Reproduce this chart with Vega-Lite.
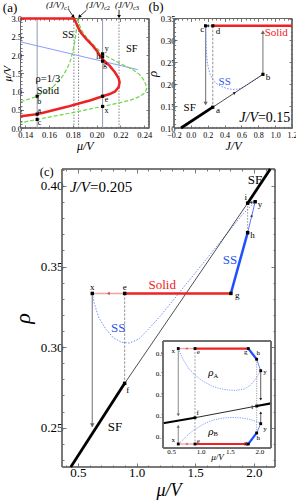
{
"$schema":"https://vega.github.io/schema/vega-lite/v6.json",
"width":296,"height":503,"autosize":"none","padding":0,"background":"white",
"config":{"font":"Liberation Serif","view":{"stroke":null},"axis":{"grid":false,"domain":false,"labelFont":"Liberation Serif","titleFont":"Liberation Serif","labelColor":"#000","titleColor":"#000","tickColor":"#555","tickWidth":0.8,"titleFontWeight":"normal","titleFontStyle":"italic","labelFlush":false,"labelOverlap":false},"text":{"font":"Liberation Serif"}},
"datasets":{
"a_frame":[{"x":0.136,"x2":0.244,"y":0,"y2":3}],
"a_vgray":[{"x":0.15,"x2":0.15,"y":0,"y2":3},{"x":0.205,"x2":0.205,"y":0,"y2":3}],
"a_vdot":[{"x":0.1809,"x2":0.1809,"y":0,"y2":3},{"x":0.1848,"x2":0.1848,"y":0,"y2":3},{"x":0.2188,"x2":0.2188,"y":0,"y2":3}],
"a_blue":[{"x":0.136,"y":2.36},{"x":0.2345,"y":1.6}],
"a_green1":[{"x":0.136,"y":0.72},{"x":0.143,"y":0.79},{"x":0.15,"y":0.87},{"x":0.157,"y":0.98},{"x":0.163,"y":1.12},{"x":0.168,"y":1.28},{"x":0.172,"y":1.45},{"x":0.1755,"y":1.65},{"x":0.178,"y":1.85},{"x":0.18,"y":2.1},{"x":0.1818,"y":2.4},{"x":0.183,"y":2.7},{"x":0.1838,"y":3.0}],
"a_green2":[{"x":0.1838,"y":3.0},{"x":0.1855,"y":2.82},{"x":0.188,"y":2.64},{"x":0.192,"y":2.46},{"x":0.197,"y":2.29},{"x":0.201,"y":2.16},{"x":0.205,"y":2.03},{"x":0.212,"y":1.9},{"x":0.2196,"y":1.77},{"x":0.2255,"y":1.68},{"x":0.2308,"y":1.59},{"x":0.236,"y":1.47},{"x":0.2395,"y":1.32},{"x":0.2415,"y":1.18},{"x":0.242,"y":1.08},{"x":0.2405,"y":0.96},{"x":0.236,"y":0.86},{"x":0.229,"y":0.77},{"x":0.219,"y":0.69},{"x":0.205,"y":0.59},{"x":0.19,"y":0.49},{"x":0.175,"y":0.39},{"x":0.16,"y":0.3},{"x":0.15,"y":0.235},{"x":0.143,"y":0.19},{"x":0.136,"y":0.14}],
"a_red":[{"x":0.136,"y":3.0},{"x":0.181,"y":3.0},{"x":0.1825,"y":2.9},{"x":0.1845,"y":2.75},{"x":0.187,"y":2.6},{"x":0.191,"y":2.45},{"x":0.196,"y":2.28},{"x":0.2,"y":2.12},{"x":0.205,"y":1.88},{"x":0.211,"y":1.7},{"x":0.2155,"y":1.52},{"x":0.2185,"y":1.36},{"x":0.2193,"y":1.25},{"x":0.2185,"y":1.12},{"x":0.2155,"y":1.0},{"x":0.211,"y":0.93},{"x":0.205,"y":0.87},{"x":0.195,"y":0.76},{"x":0.185,"y":0.67},{"x":0.175,"y":0.58},{"x":0.165,"y":0.5},{"x":0.155,"y":0.42},{"x":0.15,"y":0.38},{"x":0.143,"y":0.35},{"x":0.136,"y":0.32}],
"a_pts":[{"x":0.15,"y":0.38},{"x":0.15,"y":0.87},{"x":0.15,"y":0.235},{"x":0.205,"y":2.03},{"x":0.205,"y":1.95},{"x":0.205,"y":1.83},{"x":0.205,"y":0.87},{"x":0.205,"y":0.59}],
"a_lbl":[{"x":0.1518,"y":0.71,"t":"b"},{"x":0.1518,"y":0.46,"t":"a"},{"x":0.152,"y":0.14,"t":"c"},{"x":0.2084,"y":2.16,"t":"y"},{"x":0.2013,"y":1.95,"t":"h"},{"x":0.207,"y":1.72,"t":"g"},{"x":0.2083,"y":0.76,"t":"e"},{"x":0.2083,"y":0.46,"t":"x"}],
"a_txt":[{"x":0.176,"y":2.55,"t":"SS"},{"x":0.2295,"y":2.16,"t":"SF"},{"x":0.159,"y":1.33,"t":"ρ=1/3"},{"x":0.159,"y":1.02,"t":"Solid"}],
"a_jv":[{"x":0.1725,"y":3.36,"t":"(J/V)"},{"x":0.2061,"y":3.36,"t":"(J/V)"},{"x":0.2305,"y":3.36,"t":"(J/V)"}],
"a_jvsub":[{"x":0.1725,"y":3.3,"t":"c1"},{"x":0.2061,"y":3.3,"t":"c2"},{"x":0.2305,"y":3.3,"t":"c3"}],
"a_arr":[{"x":0.1767,"x2":0.1805,"y":3.23,"y2":3.05},{"x":0.1915,"x2":0.1855,"y":3.23,"y2":3.05},{"x":0.2188,"x2":0.2188,"y":3.24,"y2":3.05}],
"a_h1":[{"x":0.1805,"y":3.05}],"a_h2":[{"x":0.1855,"y":3.05}],"a_h3":[{"x":0.2188,"y":3.05}],
"a_lab":[{"x":0.1272,"y":3.29,"t":"(a)"}],
"b_frame":[{"x":-0.2,"x2":1.2,"y":0.1,"y2":0.35}],
"b_garr":[{"x":0.855,"x2":0.855,"y":0.2225,"y2":0.32},{"x":0.175,"x2":0.175,"y":0.3333,"y2":0.155}],
"b_hup":[{"x":0.855,"y":0.319}],"b_hdown":[{"x":0.175,"y":0.156}],
"b_dash":[{"x":0.26,"x2":0.26,"y":0.3333,"y2":0.1475}],
"b_cd":[{"x":0.175,"x2":0.26,"y":0.3333,"y2":0.3333}],
"b_hleft":[{"x":0.2,"y":0.3333}],
"b_sfthick":[{"x":-0.117,"x2":0.26,"y":0.1,"y2":0.1475}],
"b_sfthin":[{"x":0.26,"x2":0.855,"y":0.1475,"y2":0.2225}],
"b_hmid":[{"x":0.52,"y":0.1803}],
"b_ss":[{"x":0.175,"y":0.3333},{"x":0.178,"y":0.31},{"x":0.182,"y":0.285},{"x":0.188,"y":0.265},{"x":0.197,"y":0.248},{"x":0.21,"y":0.235},{"x":0.23,"y":0.222},{"x":0.26,"y":0.211},{"x":0.3,"y":0.202},{"x":0.36,"y":0.195},{"x":0.43,"y":0.19},{"x":0.5,"y":0.188},{"x":0.57,"y":0.189},{"x":0.62,"y":0.193},{"x":0.7,"y":0.2025},{"x":0.78,"y":0.2125},{"x":0.855,"y":0.2225}],
"b_red":[{"x":0.26,"x2":1.2,"y":0.3333,"y2":0.3333}],
"b_pts":[{"x":0.175,"y":0.3333},{"x":0.26,"y":0.3333},{"x":0.26,"y":0.1475},{"x":0.855,"y":0.2225}],
"b_lbl":[{"x":0.136,"y":0.326,"t":"c"},{"x":0.322,"y":0.321,"t":"d"},{"x":0.322,"y":0.141,"t":"a"},{"x":0.915,"y":0.2167,"t":"b"}],
"b_tred":[{"x":1.013,"y":0.316,"t":"Solid"}],
"b_tblue":[{"x":0.401,"y":0.2045,"t":"SS"}],
"b_tblack":[{"x":-0.014,"y":0.145,"t":"SF"}],
"b_jv":[{"x":0.796,"y":0.1217,"t":"J/V"}],"b_jv2":[{"x":0.796,"y":0.1217,"t":"=0.15"}],
"b_lab":[{"x":-0.4135,"y":0.376,"t":"(b)"}],
"c_frame":[{"x":0.365,"x2":2.18,"y":0.2256,"y2":0.4105}],
"c_sfthick":[{"x":0.44,"x2":0.899,"y":0.2256,"y2":0.2775},{"x":1.947,"x2":2.14,"y":0.3893,"y2":0.4105}],
"c_sfthin":[{"x":0.899,"x2":1.947,"y":0.2775,"y2":0.3893}],
"c_garr":[{"x":0.623,"x2":0.623,"y":0.3333,"y2":0.2505}],
"c_hdown":[{"x":0.623,"y":0.2515}],
"c_dash":[{"x":0.899,"x2":0.899,"y":0.3333,"y2":0.2775}],
"c_dot":[{"x":1.947,"x2":1.947,"y":0.3893,"y2":0.371}],
"c_pink":[{"x":0.623,"x2":0.899,"y":0.3333,"y2":0.3333}],
"c_hleft":[{"x":0.76,"y":0.3333}],
"c_red":[{"x":0.899,"x2":1.804,"y":0.3333,"y2":0.3333}],
"c_bthick":[{"x":1.804,"x2":1.947,"y":0.3333,"y2":0.371}],
"c_bthin":[{"x":1.947,"x2":2.011,"y":0.371,"y2":0.3902}],
"c_hmid":[{"x":1.982,"y":0.3815}],
"c_yi":[{"x":1.947,"x2":2.011,"y":0.3893,"y2":0.3902}],
"c_hyi":[{"x":1.975,"y":0.3897}],
"c_ss":[{"x":0.623,"y":0.3333},{"x":0.64,"y":0.327},{"x":0.68,"y":0.318},{"x":0.74,"y":0.311},{"x":0.8,"y":0.306},{"x":0.87,"y":0.303},{"x":0.94,"y":0.3025},{"x":1.02,"y":0.305},{"x":1.1,"y":0.311},{"x":1.2,"y":0.319},{"x":1.3,"y":0.328},{"x":1.4,"y":0.337},{"x":1.5,"y":0.346},{"x":1.6,"y":0.355},{"x":1.7,"y":0.364},{"x":1.8,"y":0.373},{"x":1.9,"y":0.382},{"x":2.011,"y":0.3902}],
"c_pts":[{"x":0.623,"y":0.3333},{"x":0.899,"y":0.3333},{"x":1.804,"y":0.3333},{"x":1.947,"y":0.371},{"x":1.947,"y":0.3893},{"x":2.011,"y":0.3902},{"x":0.899,"y":0.2775}],
"c_lbl":[{"x":0.623,"y":0.3371,"t":"x"},{"x":0.899,"y":0.3375,"t":"e"},{"x":1.858,"y":0.3323,"t":"g"},{"x":1.989,"y":0.3696,"t":"h"},{"x":1.93,"y":0.3929,"t":"i"},{"x":2.052,"y":0.3888,"t":"y"},{"x":0.925,"y":0.2734,"t":"f"}],
"c_tred":[{"x":1.219,"y":0.3385,"t":"Solid"}],
"c_tblue":[{"x":1.796,"y":0.354,"t":"SS"},{"x":0.845,"y":0.3117,"t":"SS"}],
"c_tblack":[{"x":0.816,"y":0.2506,"t":"SF"},{"x":2.009,"y":0.4037,"t":"SF"}],
"c_jv":[{"x":0.603,"y":0.3991,"t":"J/V"}],"c_jv2":[{"x":0.603,"y":0.3991,"t":"=0.205"}],
"c_lab":[{"x":0.235,"y":0.4088,"t":"(c)"}],
"i_frame":[{"x":0.36,"x2":2.2,"y":-0.014,"y2":1.016}],
"i_dash":[{"x":0.905,"x2":0.905,"y":0.9435,"y2":0.0244}],
"i_dot":[{"x":1.956,"x2":1.956,"y":0.84,"y2":0.131}],
"i_garr":[{"x":0.62,"x2":0.62,"y":0.9435,"y2":0.3},{"x":0.62,"x2":0.62,"y":0.0244,"y2":0.2}],
"i_ghdown":[{"x":0.62,"y":0.305}],"i_ghup":[{"x":0.62,"y":0.195}],
"i_karr":[{"x":2.025,"x2":2.025,"y":0.73,"y2":0.45},{"x":2.025,"x2":2.025,"y":0.22,"y2":0.33}],
"i_khdown":[{"x":2.025,"y":0.455}],"i_khup":[{"x":2.025,"y":0.325}],
"i_pink":[{"x":0.62,"x2":0.905,"y":0.9435,"y2":0.9435},{"x":0.62,"x2":0.905,"y":0.0244,"y2":0.0244}],
"i_hleft":[{"x":0.76,"y":0.9435},{"x":0.76,"y":0.0244}],
"i_red":[{"x":0.905,"x2":1.813,"y":0.9435,"y2":0.9435},{"x":0.905,"x2":1.813,"y":0.0244,"y2":0.0244}],
"i_bthick":[{"x":1.813,"x2":1.956,"y":0.9435,"y2":0.84},{"x":1.813,"x2":1.956,"y":0.0244,"y2":0.131}],
"i_bthin":[{"x":1.956,"x2":2.025,"y":0.84,"y2":0.73},{"x":1.956,"x2":2.025,"y":0.131,"y2":0.22}],
"i_sfthick":[{"x":0.36,"x2":0.905,"y":0.224,"y2":0.2775},{"x":1.956,"x2":2.2,"y":0.39,"y2":0.416}],
"i_sfthin":[{"x":0.905,"x2":1.956,"y":0.2775,"y2":0.39}],
"i_ssA":[{"x":0.62,"y":0.9435},{"x":0.7,"y":0.84},{"x":0.8,"y":0.75},{"x":0.9,"y":0.69},{"x":1.0,"y":0.645},{"x":1.1,"y":0.61},{"x":1.2,"y":0.582},{"x":1.3,"y":0.562},{"x":1.45,"y":0.545},{"x":1.6,"y":0.54},{"x":1.75,"y":0.555},{"x":1.85,"y":0.59},{"x":1.95,"y":0.66},{"x":2.025,"y":0.73}],
"i_ssB":[{"x":0.62,"y":0.0244},{"x":0.7,"y":0.065},{"x":0.8,"y":0.12},{"x":0.9,"y":0.165},{"x":1.0,"y":0.2},{"x":1.1,"y":0.23},{"x":1.25,"y":0.26},{"x":1.4,"y":0.275},{"x":1.55,"y":0.28},{"x":1.7,"y":0.275},{"x":1.85,"y":0.26},{"x":1.95,"y":0.24},{"x":2.025,"y":0.22}],
"i_pts":[{"x":0.62,"y":0.9435},{"x":0.905,"y":0.9435},{"x":1.813,"y":0.9435},{"x":1.956,"y":0.84},{"x":2.025,"y":0.73},{"x":1.956,"y":0.39},{"x":0.905,"y":0.2775},{"x":0.62,"y":0.0244},{"x":0.905,"y":0.0244},{"x":1.813,"y":0.0244},{"x":1.956,"y":0.131},{"x":2.025,"y":0.22}],
"i_lbl":[{"x":0.535,"y":0.92,"t":"x"},{"x":0.961,"y":0.913,"t":"e"},{"x":0.951,"y":0.32,"t":"f"},{"x":0.535,"y":0.063,"t":"x"},{"x":0.961,"y":0.053,"t":"e"},{"x":1.769,"y":0.913,"t":"g"},{"x":1.984,"y":0.897,"t":"h"},{"x":2.098,"y":0.72,"t":"y"},{"x":1.881,"y":0.383,"t":"i"},{"x":2.098,"y":0.169,"t":"y"},{"x":1.984,"y":0.079,"t":"h"},{"x":1.769,"y":0.037,"t":"g"}],
"i_rho":[{"x":1.22,"y":0.705,"t":"ρ"},{"x":1.22,"y":0.143,"t":"ρ"}],
"i_rhosub":[{"x":1.22,"y":0.68,"t":"A"},{"x":1.22,"y":0.118,"t":"B"}]
},
"resolve":{"scale":{"x":"independent","y":"independent"},"axis":{"x":"independent","y":"independent"}},
"layer":[
{"data":{"name":"a_frame"},"mark":{"type":"rect","filled":false,"stroke":"#666","strokeWidth":1},
"encoding":{"x":{"field":"x","type":"quantitative","scale":{"domain":[0.136,0.244],"range":[20.5,149],"nice":false,"zero":false},"axis":{"orient":"top","offset":-18.5,"values":[0.14,0.16,0.18,0.2,0.22,0.24],"labels":false,"tickSize":-3,"title":null}},"x2":{"field":"x2"},
"y":{"field":"y","type":"quantitative","scale":{"domain":[0,3],"range":[128,18.5],"nice":false,"zero":false},"axis":{"orient":"right","offset":-147,"values":[0,0.5,1,1.5,2,2.5,3],"labels":false,"tickSize":-3,"title":null}},"y2":{"field":"y2"}}},
{"data":{"name":"a_frame"},"mark":{"type":"rect","filled":false,"stroke":"#666","strokeWidth":1},
"encoding":{"x":{"field":"x","type":"quantitative","scale":{"domain":[0.136,0.244],"range":[20.5,149],"nice":false,"zero":false},"axis":{"orient":"top","offset":-18.5,"values":[0.144,0.148,0.152,0.156,0.164,0.168,0.172,0.176,0.184,0.188,0.192,0.196,0.204,0.208,0.212,0.216,0.224,0.228,0.232,0.236],"labels":false,"tickSize":-1.6,"title":null}},"x2":{"field":"x2"},
"y":{"field":"y","type":"quantitative","scale":{"domain":[0,3],"range":[128,18.5],"nice":false,"zero":false},"axis":{"orient":"right","offset":-147,"values":[0.1,0.2,0.3,0.4,0.6,0.7,0.8,0.9,1.1,1.2,1.3,1.4,1.6,1.7,1.8,1.9,2.1,2.2,2.3,2.4,2.6,2.7,2.8,2.9],"labels":false,"tickSize":-1.6,"title":null}},"y2":{"field":"y2"}}},
{"data":{"name":"a_frame"},"mark":{"type":"rect","filled":false,"stroke":"#666","strokeWidth":1},
"encoding":{"x":{"field":"x","type":"quantitative","scale":{"domain":[0.136,0.244],"range":[20.5,149],"nice":false,"zero":false},"axis":{"orient":"bottom","offset":-375,"values":[0.144,0.148,0.152,0.156,0.164,0.168,0.172,0.176,0.184,0.188,0.192,0.196,0.204,0.208,0.212,0.216,0.224,0.228,0.232,0.236],"labels":false,"tickSize":-1.6,"title":null}},"x2":{"field":"x2"},
"y":{"field":"y","type":"quantitative","scale":{"domain":[0,3],"range":[128,18.5],"nice":false,"zero":false},"axis":{"orient":"left","offset":-20.5,"values":[0.1,0.2,0.3,0.4,0.6,0.7,0.8,0.9,1.1,1.2,1.3,1.4,1.6,1.7,1.8,1.9,2.1,2.2,2.3,2.4,2.6,2.7,2.8,2.9],"labels":false,"tickSize":-1.6,"title":null}},"y2":{"field":"y2"}}},
{
"encoding":{
"x":{"field":"x","type":"quantitative","scale":{"domain":[0.136,0.244],"range":[20.5,149],"nice":false,"zero":false},"axis":{"orient":"bottom","offset":-375,"values":[0.14,0.16,0.18,0.2,0.22,0.24],"format":".2f","labelFontSize":8.5,"tickSize":-3,"labelPadding":5.5,"title":"μ/V","titleFontSize":12,"titlePadding":1}},
"y":{"field":"y","type":"quantitative","scale":{"domain":[0,3],"range":[128,18.5],"nice":false,"zero":false},"axis":{"orient":"left","offset":-20.5,"values":[0,0.5,1,1.5,2,2.5,3],"format":".1f","labelFontSize":8.5,"tickSize":-3,"labelPadding":2,"title":"μ/V","titleFontSize":11,"titlePadding":-2}}
},
"layer":[
{"data":{"name":"a_vgray"},"mark":{"type":"rule","color":"#8e9cb0","strokeWidth":1},"encoding":{"x2":{"field":"x2"},"y2":{"field":"y2"}}},
{"data":{"name":"a_vdot"},"mark":{"type":"rule","color":"#666","strokeWidth":0.8,"strokeDash":[1.5,1.5]},"encoding":{"x2":{"field":"x2"},"y2":{"field":"y2"}}},
{"data":{"name":"a_blue"},"mark":{"type":"line","color":"#8c9cff","strokeWidth":1},"encoding":{"order":{"value":null}}},
{"data":{"name":"a_green1"},"mark":{"type":"line","color":"#6ad84a","strokeWidth":1.2,"strokeDash":[4,2]},"encoding":{"order":{"value":null}}},
{"data":{"name":"a_green2"},"mark":{"type":"line","color":"#6ad84a","strokeWidth":1.2,"strokeDash":[4,2]},"encoding":{"order":{"value":null}}},
{"data":{"name":"a_red"},"mark":{"type":"line","color":"#ee2222","strokeWidth":2.5},"encoding":{"order":{"value":null}}},
{"data":{"name":"a_pts"},"mark":{"type":"point","filled":true,"shape":"square","size":10,"color":"#000","opacity":1}},
{"data":{"name":"a_lbl"},"mark":{"type":"text","fontSize":8,"align":"center","baseline":"middle","font":"Liberation Serif"},"encoding":{"text":{"field":"t"}}},
{"data":{"name":"a_txt"},"mark":{"type":"text","fontSize":10.5,"align":"center","baseline":"middle","font":"Liberation Serif"},"encoding":{"text":{"field":"t"}}},
{"data":{"name":"a_jv"},"mark":{"type":"text","fontSize":9,"fontStyle":"italic","align":"right","baseline":"middle","font":"Liberation Serif"},"encoding":{"text":{"field":"t"}}},
{"data":{"name":"a_jvsub"},"mark":{"type":"text","fontSize":6.5,"align":"left","baseline":"middle","font":"Liberation Serif"},"encoding":{"text":{"field":"t"}}},
{"data":{"name":"a_arr"},"mark":{"type":"rule","color":"#000","strokeWidth":0.8},"encoding":{"x2":{"field":"x2"},"y2":{"field":"y2"}}},
{"data":{"name":"a_h1"},"mark":{"type":"point","shape":"triangle-up","angle":141,"filled":true,"size":14,"color":"#000","opacity":1}},
{"data":{"name":"a_h2"},"mark":{"type":"point","shape":"triangle-up","angle":220,"filled":true,"size":14,"color":"#000","opacity":1}},
{"data":{"name":"a_h3"},"mark":{"type":"point","shape":"triangle-up","angle":180,"filled":true,"size":14,"color":"#000","opacity":1}},
{"data":{"name":"a_lab"},"mark":{"type":"text","fontSize":13,"align":"center","baseline":"middle","font":"Liberation Serif"},"encoding":{"text":{"field":"t"}}}
]
},
{"data":{"name":"b_frame"},"mark":{"type":"rect","filled":false,"stroke":"#666","strokeWidth":1},
"encoding":{"x":{"field":"x","type":"quantitative","scale":{"domain":[-0.2,1.2],"range":[174,292],"nice":false,"zero":false},"axis":{"orient":"top","offset":-18.5,"values":[-0.2,0,0.2,0.4,0.6,0.8,1,1.2],"labels":false,"tickSize":-3,"title":null}},"x2":{"field":"x2"},
"y":{"field":"y","type":"quantitative","scale":{"domain":[0.1,0.35],"range":[128,18.5],"nice":false,"zero":false},"axis":{"orient":"right","offset":-4,"values":[0.1,0.15,0.2,0.25,0.3,0.35],"labels":false,"tickSize":-3,"title":null}},"y2":{"field":"y2"}}},
{"data":{"name":"b_frame"},"mark":{"type":"rect","filled":false,"stroke":"#666","strokeWidth":1},
"encoding":{"x":{"field":"x","type":"quantitative","scale":{"domain":[-0.2,1.2],"range":[174,292],"nice":false,"zero":false},"axis":{"orient":"top","offset":-18.5,"values":[-0.15,-0.1,-0.05,0.05,0.1,0.15,0.25,0.3,0.35,0.45,0.5,0.55,0.65,0.7,0.75,0.85,0.9,0.95,1.05,1.1,1.15],"labels":false,"tickSize":-1.6,"title":null}},"x2":{"field":"x2"},
"y":{"field":"y","type":"quantitative","scale":{"domain":[0.1,0.35],"range":[128,18.5],"nice":false,"zero":false},"axis":{"orient":"right","offset":-4,"values":[0.11,0.12,0.13,0.14,0.16,0.17,0.18,0.19,0.21,0.22,0.23,0.24,0.26,0.27,0.28,0.29,0.31,0.32,0.33,0.34],"labels":false,"tickSize":-1.6,"title":null}},"y2":{"field":"y2"}}},
{"data":{"name":"b_frame"},"mark":{"type":"rect","filled":false,"stroke":"#666","strokeWidth":1},
"encoding":{"x":{"field":"x","type":"quantitative","scale":{"domain":[-0.2,1.2],"range":[174,292],"nice":false,"zero":false},"axis":{"orient":"bottom","offset":-375,"values":[-0.15,-0.1,-0.05,0.05,0.1,0.15,0.25,0.3,0.35,0.45,0.5,0.55,0.65,0.7,0.75,0.85,0.9,0.95,1.05,1.1,1.15],"labels":false,"tickSize":-1.6,"title":null}},"x2":{"field":"x2"},
"y":{"field":"y","type":"quantitative","scale":{"domain":[0.1,0.35],"range":[128,18.5],"nice":false,"zero":false},"axis":{"orient":"left","offset":-174,"values":[0.11,0.12,0.13,0.14,0.16,0.17,0.18,0.19,0.21,0.22,0.23,0.24,0.26,0.27,0.28,0.29,0.31,0.32,0.33,0.34],"labels":false,"tickSize":-1.6,"title":null}},"y2":{"field":"y2"}}},
{
"encoding":{
"x":{"field":"x","type":"quantitative","scale":{"domain":[-0.2,1.2],"range":[174,292],"nice":false,"zero":false},"axis":{"orient":"bottom","offset":-375,"values":[-0.2,0,0.2,0.4,0.6,0.8,1,1.2],"format":".1f","labelFontSize":8,"tickSize":-3,"labelPadding":6,"title":"J/V","titleFontSize":12,"titlePadding":1}},
"y":{"field":"y","type":"quantitative","scale":{"domain":[0.1,0.35],"range":[128,18.5],"nice":false,"zero":false},"axis":{"orient":"left","offset":-174,"values":[0.1,0.15,0.2,0.25,0.3,0.35],"format":".2f","labelFontSize":8.5,"tickSize":-3,"labelPadding":2,"title":"ρ","titleFontSize":13,"titlePadding":1}}
},
"layer":[
{"data":{"name":"b_dash"},"mark":{"type":"rule","color":"#777","strokeWidth":0.8,"strokeDash":[2.5,1.5]},"encoding":{"x2":{"field":"x2"},"y2":{"field":"y2"}}},
{"data":{"name":"b_garr"},"mark":{"type":"rule","color":"#888","strokeWidth":1.2},"encoding":{"x2":{"field":"x2"},"y2":{"field":"y2"}}},
{"data":{"name":"b_hup"},"mark":{"type":"point","shape":"triangle-up","filled":true,"size":18,"color":"#666","opacity":1}},
{"data":{"name":"b_hdown"},"mark":{"type":"point","shape":"triangle-down","filled":true,"size":18,"color":"#666","opacity":1}},
{"data":{"name":"b_cd"},"mark":{"type":"rule","color":"#999","strokeWidth":0.8},"encoding":{"x2":{"field":"x2"},"y2":{"field":"y2"}}},
{"data":{"name":"b_hleft"},"mark":{"type":"point","shape":"triangle-left","filled":true,"size":10,"color":"#333","opacity":1}},
{"data":{"name":"b_ss"},"mark":{"type":"line","color":"#7090ff","strokeWidth":1,"strokeDash":[1.5,1.5]},"encoding":{"order":{"value":null}}},
{"data":{"name":"b_sfthick"},"mark":{"type":"rule","color":"#000","strokeWidth":2.8},"encoding":{"x2":{"field":"x2"},"y2":{"field":"y2"}}},
{"data":{"name":"b_sfthin"},"mark":{"type":"rule","color":"#222","strokeWidth":0.8},"encoding":{"x2":{"field":"x2"},"y2":{"field":"y2"}}},
{"data":{"name":"b_hmid"},"mark":{"type":"point","shape":"triangle-up","angle":57,"filled":true,"size":10,"color":"#222","opacity":1}},
{"data":{"name":"b_red"},"mark":{"type":"rule","color":"#ee2222","strokeWidth":2.5},"encoding":{"x2":{"field":"x2"},"y2":{"field":"y2"}}},
{"data":{"name":"b_pts"},"mark":{"type":"point","filled":true,"shape":"square","size":10,"color":"#000","opacity":1}},
{"data":{"name":"b_lbl"},"mark":{"type":"text","fontSize":9,"align":"center","baseline":"middle","font":"Liberation Serif"},"encoding":{"text":{"field":"t"}}},
{"data":{"name":"b_tred"},"mark":{"type":"text","fontSize":11,"color":"#ee2222","align":"center","baseline":"middle","font":"Liberation Serif"},"encoding":{"text":{"field":"t"}}},
{"data":{"name":"b_tblue"},"mark":{"type":"text","fontSize":11,"color":"#3355ee","align":"center","baseline":"middle","font":"Liberation Serif"},"encoding":{"text":{"field":"t"}}},
{"data":{"name":"b_tblack"},"mark":{"type":"text","fontSize":11,"align":"center","baseline":"middle","font":"Liberation Serif"},"encoding":{"text":{"field":"t"}}},
{"data":{"name":"b_jv"},"mark":{"type":"text","fontSize":14,"fontStyle":"italic","align":"right","baseline":"middle","font":"Liberation Serif"},"encoding":{"text":{"field":"t"}}},
{"data":{"name":"b_jv2"},"mark":{"type":"text","fontSize":14,"align":"left","baseline":"middle","font":"Liberation Serif"},"encoding":{"text":{"field":"t"}}},
{"data":{"name":"b_lab"},"mark":{"type":"text","fontSize":13,"align":"center","baseline":"middle","font":"Liberation Serif"},"encoding":{"text":{"field":"t"}}}
]
},
{"data":{"name":"c_frame"},"mark":{"type":"rect","filled":false,"stroke":"#666","strokeWidth":1},
"encoding":{"x":{"field":"x","type":"quantitative","scale":{"domain":[0.365,2.18],"range":[62,275],"nice":false,"zero":false},"axis":{"orient":"top","offset":-169,"values":[0.5,1,1.5,2],"labels":false,"tickSize":-4,"title":null}},"x2":{"field":"x2"},
"y":{"field":"y","type":"quantitative","scale":{"domain":[0.2256,0.4105],"range":[467,169],"nice":false,"zero":false},"axis":{"orient":"right","offset":-21,"values":[0.25,0.3,0.35,0.4],"labels":false,"tickSize":-4,"title":null}},"y2":{"field":"y2"}}},
{"data":{"name":"c_frame"},"mark":{"type":"rect","filled":false,"stroke":"#666","strokeWidth":1},
"encoding":{"x":{"field":"x","type":"quantitative","scale":{"domain":[0.365,2.18],"range":[62,275],"nice":false,"zero":false},"axis":{"orient":"top","offset":-169,"values":[0.4,0.6,0.7,0.8,0.9,1.1,1.2,1.3,1.4,1.6,1.7,1.8,1.9,2.1],"labels":false,"tickSize":-2,"title":null}},"x2":{"field":"x2"},
"y":{"field":"y","type":"quantitative","scale":{"domain":[0.2256,0.4105],"range":[467,169],"nice":false,"zero":false},"axis":{"orient":"right","offset":-21,"values":[0.23,0.24,0.26,0.27,0.28,0.29,0.31,0.32,0.33,0.34,0.36,0.37,0.38,0.39,0.41],"labels":false,"tickSize":-2,"title":null}},"y2":{"field":"y2"}}},
{"data":{"name":"c_frame"},"mark":{"type":"rect","filled":false,"stroke":"#666","strokeWidth":1},
"encoding":{"x":{"field":"x","type":"quantitative","scale":{"domain":[0.365,2.18],"range":[62,275],"nice":false,"zero":false},"axis":{"orient":"bottom","offset":-36,"values":[0.4,0.6,0.7,0.8,0.9,1.1,1.2,1.3,1.4,1.6,1.7,1.8,1.9,2.1],"labels":false,"tickSize":-2,"title":null}},"x2":{"field":"x2"},
"y":{"field":"y","type":"quantitative","scale":{"domain":[0.2256,0.4105],"range":[467,169],"nice":false,"zero":false},"axis":{"orient":"left","offset":-62,"values":[0.23,0.24,0.26,0.27,0.28,0.29,0.31,0.32,0.33,0.34,0.36,0.37,0.38,0.39,0.41],"labels":false,"tickSize":-2,"title":null}},"y2":{"field":"y2"}}},
{
"encoding":{
"x":{"field":"x","type":"quantitative","scale":{"domain":[0.365,2.18],"range":[62,275],"nice":false,"zero":false},"axis":{"orient":"bottom","offset":-36,"values":[0.5,1,1.5,2],"format":".1f","labelFontSize":13,"tickSize":-4,"labelPadding":3,"title":"μ/V","titleFontSize":18,"titlePadding":2}},
"y":{"field":"y","type":"quantitative","scale":{"domain":[0.2256,0.4105],"range":[467,169],"nice":false,"zero":false},"axis":{"orient":"left","offset":-62,"values":[0.25,0.3,0.35,0.4],"format":".2f","labelFontSize":13,"tickSize":-4,"labelPadding":3,"title":"ρ","titleFontSize":22,"titlePadding":6}}
},
"layer":[
{"data":{"name":"c_dash"},"mark":{"type":"rule","color":"#777","strokeWidth":0.8,"strokeDash":[2.5,1.5]},"encoding":{"x2":{"field":"x2"},"y2":{"field":"y2"}}},
{"data":{"name":"c_dot"},"mark":{"type":"rule","color":"#777","strokeWidth":0.8,"strokeDash":[1.5,1.5]},"encoding":{"x2":{"field":"x2"},"y2":{"field":"y2"}}},
{"data":{"name":"c_garr"},"mark":{"type":"rule","color":"#888","strokeWidth":1.2},"encoding":{"x2":{"field":"x2"},"y2":{"field":"y2"}}},
{"data":{"name":"c_hdown"},"mark":{"type":"point","shape":"triangle-down","filled":true,"size":20,"color":"#666","opacity":1}},
{"data":{"name":"c_ss"},"mark":{"type":"line","color":"#7090ff","strokeWidth":1,"strokeDash":[1.5,1.5]},"encoding":{"order":{"value":null}}},
{"data":{"name":"c_sfthin"},"mark":{"type":"rule","color":"#222","strokeWidth":0.8},"encoding":{"x2":{"field":"x2"},"y2":{"field":"y2"}}},
{"data":{"name":"c_sfthick"},"mark":{"type":"rule","color":"#000","strokeWidth":2.8},"encoding":{"x2":{"field":"x2"},"y2":{"field":"y2"}}},
{"data":{"name":"c_pink"},"mark":{"type":"rule","color":"#f3a3a3","strokeWidth":1.5},"encoding":{"x2":{"field":"x2"},"y2":{"field":"y2"}}},
{"data":{"name":"c_hleft"},"mark":{"type":"point","shape":"triangle-left","filled":true,"size":10,"color":"#c44","opacity":1}},
{"data":{"name":"c_red"},"mark":{"type":"rule","color":"#ee2222","strokeWidth":2.5},"encoding":{"x2":{"field":"x2"},"y2":{"field":"y2"}}},
{"data":{"name":"c_bthick"},"mark":{"type":"rule","color":"#1f4fff","strokeWidth":2.5},"encoding":{"x2":{"field":"x2"},"y2":{"field":"y2"}}},
{"data":{"name":"c_bthin"},"mark":{"type":"rule","color":"#5577ff","strokeWidth":1},"encoding":{"x2":{"field":"x2"},"y2":{"field":"y2"}}},
{"data":{"name":"c_hmid"},"mark":{"type":"point","shape":"triangle-up","angle":14,"filled":true,"size":8,"color":"#333","opacity":1}},
{"data":{"name":"c_yi"},"mark":{"type":"rule","color":"#333","strokeWidth":0.7},"encoding":{"x2":{"field":"x2"},"y2":{"field":"y2"}}},
{"data":{"name":"c_hyi"},"mark":{"type":"point","shape":"triangle-left","filled":true,"size":8,"color":"#333","opacity":1}},
{"data":{"name":"c_pts"},"mark":{"type":"point","filled":true,"shape":"square","size":12,"color":"#000","opacity":1}},
{"data":{"name":"c_lbl"},"mark":{"type":"text","fontSize":9,"align":"center","baseline":"middle","font":"Liberation Serif"},"encoding":{"text":{"field":"t"}}},
{"data":{"name":"c_tred"},"mark":{"type":"text","fontSize":13,"color":"#ee2222","align":"center","baseline":"middle","font":"Liberation Serif"},"encoding":{"text":{"field":"t"}}},
{"data":{"name":"c_tblue"},"mark":{"type":"text","fontSize":13,"color":"#2a55ee","align":"center","baseline":"middle","font":"Liberation Serif"},"encoding":{"text":{"field":"t"}}},
{"data":{"name":"c_tblack"},"mark":{"type":"text","fontSize":13,"align":"center","baseline":"middle","font":"Liberation Serif"},"encoding":{"text":{"field":"t"}}},
{"data":{"name":"c_jv"},"mark":{"type":"text","fontSize":15,"fontStyle":"italic","align":"right","baseline":"middle","font":"Liberation Serif"},"encoding":{"text":{"field":"t"}}},
{"data":{"name":"c_jv2"},"mark":{"type":"text","fontSize":15,"align":"left","baseline":"middle","font":"Liberation Serif"},"encoding":{"text":{"field":"t"}}},
{"data":{"name":"c_lab"},"mark":{"type":"text","fontSize":12.5,"align":"center","baseline":"middle","font":"Liberation Serif"},"encoding":{"text":{"field":"t"}}}
]
},
{
"encoding":{
"x":{"field":"x","type":"quantitative","scale":{"domain":[0.36,2.2],"range":[163,271],"nice":false,"zero":false},"axis":{"orient":"bottom","offset":-55,"values":[0.5,1,1.5,2],"format":".1f","labelFontSize":7,"tickSize":-2,"labelPadding":1,"title":"μ/V","titleFontSize":9,"titlePadding":-2}},
"y":{"field":"y","type":"quantitative","scale":{"domain":[-0.014,1.016],"range":[448,341],"nice":false,"zero":false},"axis":{"orient":"left","offset":-163,"values":[0.1,0.3,0.5,0.7,0.9],"format":".1f","labelFontSize":7,"tickSize":-2,"labelPadding":1,"title":null}}
},
"layer":[
{"data":{"name":"i_frame"},"mark":{"type":"rect","fill":"white","stroke":"#666","strokeWidth":1},"encoding":{"x2":{"field":"x2"},"y2":{"field":"y2"}}},
{"data":{"name":"i_dash"},"mark":{"type":"rule","color":"#777","strokeWidth":0.7,"strokeDash":[2,1.5]},"encoding":{"x2":{"field":"x2"},"y2":{"field":"y2"}}},
{"data":{"name":"i_dot"},"mark":{"type":"rule","color":"#777","strokeWidth":0.7,"strokeDash":[1.2,1.2]},"encoding":{"x2":{"field":"x2"},"y2":{"field":"y2"}}},
{"data":{"name":"i_ssA"},"mark":{"type":"line","color":"#7090ff","strokeWidth":0.9,"strokeDash":[1.2,1.2]},"encoding":{"order":{"value":null}}},
{"data":{"name":"i_ssB"},"mark":{"type":"line","color":"#7090ff","strokeWidth":0.9,"strokeDash":[1.2,1.2]},"encoding":{"order":{"value":null}}},
{"data":{"name":"i_garr"},"mark":{"type":"rule","color":"#888","strokeWidth":1},"encoding":{"x2":{"field":"x2"},"y2":{"field":"y2"}}},
{"data":{"name":"i_ghdown"},"mark":{"type":"point","shape":"triangle-down","filled":true,"size":10,"color":"#666","opacity":1}},
{"data":{"name":"i_ghup"},"mark":{"type":"point","shape":"triangle-up","filled":true,"size":10,"color":"#666","opacity":1}},
{"data":{"name":"i_karr"},"mark":{"type":"rule","color":"#333","strokeWidth":0.8},"encoding":{"x2":{"field":"x2"},"y2":{"field":"y2"}}},
{"data":{"name":"i_khdown"},"mark":{"type":"point","shape":"triangle-down","filled":true,"size":8,"color":"#222","opacity":1}},
{"data":{"name":"i_khup"},"mark":{"type":"point","shape":"triangle-up","filled":true,"size":8,"color":"#222","opacity":1}},
{"data":{"name":"i_sfthin"},"mark":{"type":"rule","color":"#111","strokeWidth":0.9},"encoding":{"x2":{"field":"x2"},"y2":{"field":"y2"}}},
{"data":{"name":"i_sfthick"},"mark":{"type":"rule","color":"#000","strokeWidth":2.2},"encoding":{"x2":{"field":"x2"},"y2":{"field":"y2"}}},
{"data":{"name":"i_pink"},"mark":{"type":"rule","color":"#f3a3a3","strokeWidth":1.3},"encoding":{"x2":{"field":"x2"},"y2":{"field":"y2"}}},
{"data":{"name":"i_hleft"},"mark":{"type":"point","shape":"triangle-left","filled":true,"size":6,"color":"#c44","opacity":1}},
{"data":{"name":"i_red"},"mark":{"type":"rule","color":"#ee2222","strokeWidth":2.2},"encoding":{"x2":{"field":"x2"},"y2":{"field":"y2"}}},
{"data":{"name":"i_bthick"},"mark":{"type":"rule","color":"#1f4fff","strokeWidth":2.2},"encoding":{"x2":{"field":"x2"},"y2":{"field":"y2"}}},
{"data":{"name":"i_bthin"},"mark":{"type":"rule","color":"#5577ff","strokeWidth":0.9},"encoding":{"x2":{"field":"x2"},"y2":{"field":"y2"}}},
{"data":{"name":"i_pts"},"mark":{"type":"point","filled":true,"shape":"square","size":8,"color":"#000","opacity":1}},
{"data":{"name":"i_lbl"},"mark":{"type":"text","fontSize":7,"align":"center","baseline":"middle","font":"Liberation Serif"},"encoding":{"text":{"field":"t"}}},
{"data":{"name":"i_rho"},"mark":{"type":"text","fontSize":11,"fontStyle":"italic","align":"right","baseline":"middle","font":"Liberation Serif"},"encoding":{"text":{"field":"t"}}},
{"data":{"name":"i_rhosub"},"mark":{"type":"text","fontSize":6.5,"align":"left","baseline":"middle","font":"Liberation Serif"},"encoding":{"text":{"field":"t"}}}
]
},
{"data":{"name":"i_frame"},"mark":{"type":"rect","filled":false,"stroke":"#666","strokeWidth":1},
"encoding":{"x":{"field":"x","type":"quantitative","scale":{"domain":[0.36,2.2],"range":[163,271],"nice":false,"zero":false},"axis":{"orient":"top","offset":-341,"values":[0.5,1,1.5,2],"labels":false,"tickSize":-2,"title":null}},"x2":{"field":"x2"},
"y":{"field":"y","type":"quantitative","scale":{"domain":[-0.014,1.016],"range":[448,341],"nice":false,"zero":false},"axis":{"orient":"right","offset":-25,"values":[0.1,0.3,0.5,0.7,0.9],"labels":false,"tickSize":-2,"title":null}},"y2":{"field":"y2"}}},
{"data":{"name":"i_frame"},"mark":{"type":"rect","filled":false,"stroke":"#666","strokeWidth":1},
"encoding":{"x":{"field":"x","type":"quantitative","scale":{"domain":[0.36,2.2],"range":[163,271],"nice":false,"zero":false},"axis":{"orient":"top","offset":-341,"values":[0.6,0.7,0.8,0.9,1.1,1.2,1.3,1.4,1.6,1.7,1.8,1.9,2.1],"labels":false,"tickSize":-1.2,"title":null}},"x2":{"field":"x2"},
"y":{"field":"y","type":"quantitative","scale":{"domain":[-0.014,1.016],"range":[448,341],"nice":false,"zero":false},"axis":{"orient":"right","offset":-25,"values":[0,0.2,0.4,0.6,0.8,1],"labels":false,"tickSize":-1.2,"title":null}},"y2":{"field":"y2"}}},
{"data":{"name":"i_frame"},"mark":{"type":"rect","filled":false,"stroke":"#666","strokeWidth":1},
"encoding":{"x":{"field":"x","type":"quantitative","scale":{"domain":[0.36,2.2],"range":[163,271],"nice":false,"zero":false},"axis":{"orient":"bottom","offset":-55,"values":[0.6,0.7,0.8,0.9,1.1,1.2,1.3,1.4,1.6,1.7,1.8,1.9,2.1],"labels":false,"tickSize":-1.2,"title":null}},"x2":{"field":"x2"},
"y":{"field":"y","type":"quantitative","scale":{"domain":[-0.014,1.016],"range":[448,341],"nice":false,"zero":false},"axis":{"orient":"left","offset":-163,"values":[0,0.2,0.4,0.6,0.8,1],"labels":false,"tickSize":-1.2,"title":null}},"y2":{"field":"y2"}}}
]
}
